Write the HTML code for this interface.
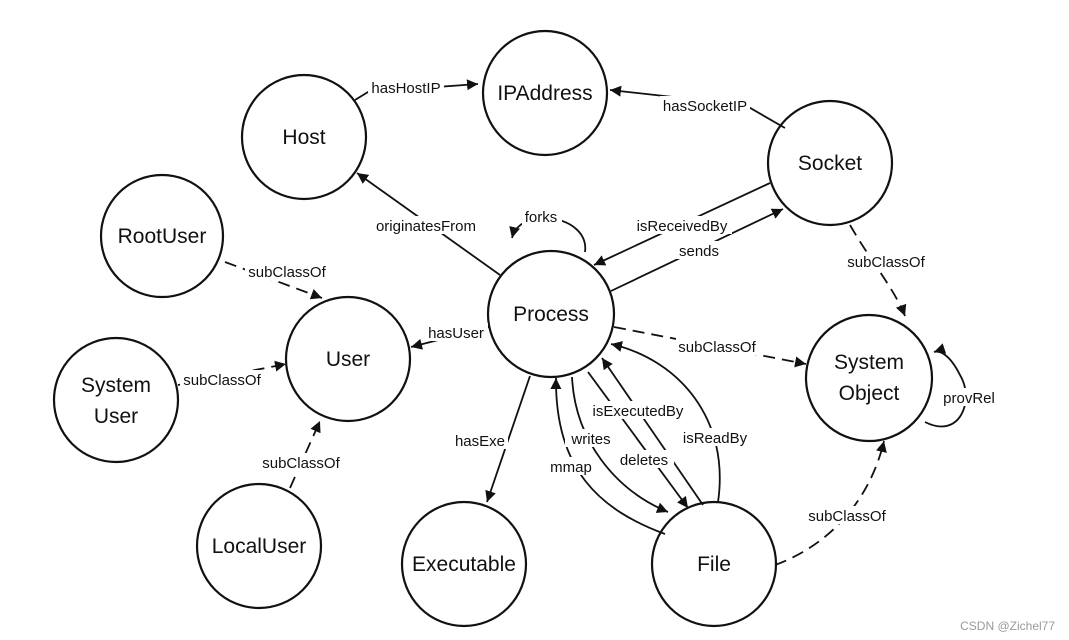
<!DOCTYPE html>
<html><head><meta charset="utf-8"><style>
body{margin:0;background:#fff}
svg{display:block}
text{font-family:"Liberation Sans",sans-serif;fill:#111}
.n{font-size:21px;text-anchor:middle}
.e{font-size:15px;text-anchor:middle}
.c{fill:none;stroke:#111;stroke-width:2.2}
.l{fill:none;stroke:#111;stroke-width:1.8}
.d{fill:none;stroke:#111;stroke-width:1.8;stroke-dasharray:12 7}
.bg{fill:#fff;stroke:none}
</style></head><body>
<svg width="1069" height="640" viewBox="0 0 1069 640" xmlns="http://www.w3.org/2000/svg">
<defs><marker id="a" viewBox="0 0 10 10" refX="10" refY="5" markerWidth="11" markerHeight="11" markerUnits="userSpaceOnUse" orient="auto"><path d="M0,0L10,5L0,10z" fill="#111"/></marker></defs>

<!-- edges -->
<path class="l" d="M355,100 L368,92 L478,84" marker-end="url(#a)"/>
<path class="l" d="M785,128 L745,105 L610,90" marker-end="url(#a)"/>
<path class="l" d="M500,275 L357,173" marker-end="url(#a)"/>
<path class="l" d="M585,252 C590,215 520,205 512,238" marker-end="url(#a)"/>
<path class="l" d="M770,183 L594,265" marker-end="url(#a)"/>
<path class="l" d="M611,291 L783,209" marker-end="url(#a)"/>
<path class="l" d="M489,327 L411,347" marker-end="url(#a)"/>
<path class="d" d="M614,327 L806,364" marker-end="url(#a)"/>
<path class="d" d="M850,225 C870,260 895,290 905,316" marker-end="url(#a)"/>
<path class="l" d="M925,422 C960,440 975,400 960,375 C950,355 940,350 934,352" marker-end="url(#a)"/>
<path class="d" d="M775,565 C830,545 870,500 884,441" marker-end="url(#a)"/>
<path class="l" d="M530,376 L487,502" marker-end="url(#a)"/>
<path class="l" d="M665,534 C600,510 555,470 556,378" marker-end="url(#a)"/>
<path class="l" d="M572,377 C575,440 615,490 668,512" marker-end="url(#a)"/>
<path class="l" d="M588,372 L688,508" marker-end="url(#a)"/>
<path class="l" d="M703,505 L602,358" marker-end="url(#a)"/>
<path class="l" d="M718,502 C730,420 680,360 611,344" marker-end="url(#a)"/>
<path class="d" d="M225,262 L322,298" marker-end="url(#a)"/>
<path class="d" d="M178,385 L286,364" marker-end="url(#a)"/>
<path class="d" d="M290,488 L320,421" marker-end="url(#a)"/>

<!-- nodes -->
<g fill="#fff">
<circle class="c" cx="304" cy="137" r="62" fill="#fff"/>
<circle class="c" cx="545" cy="93" r="62" fill="#fff"/>
<circle class="c" cx="830" cy="163" r="62" fill="#fff"/>
<circle class="c" cx="162" cy="236" r="61" fill="#fff"/>
<circle class="c" cx="348" cy="359" r="62" fill="#fff"/>
<circle class="c" cx="116" cy="400" r="62" fill="#fff"/>
<circle class="c" cx="259" cy="546" r="62" fill="#fff"/>
<circle class="c" cx="551" cy="314" r="63" fill="#fff"/>
<circle class="c" cx="869" cy="378" r="63" fill="#fff"/>
<circle class="c" cx="464" cy="564" r="62" fill="#fff"/>
<circle class="c" cx="714" cy="564" r="62" fill="#fff"/>
</g>
<text class="n" x="304" y="144">Host</text>
<text class="n" x="545" y="100">IPAddress</text>
<text class="n" x="830" y="170">Socket</text>
<text class="n" x="162" y="243">RootUser</text>
<text class="n" x="348" y="366">User</text>
<text class="n" x="116" y="392">System</text>
<text class="n" x="116" y="423">User</text>
<text class="n" x="259" y="553">LocalUser</text>
<text class="n" x="551" y="321">Process</text>
<text class="n" x="869" y="369">System</text>
<text class="n" x="869" y="400">Object</text>
<text class="n" x="464" y="571">Executable</text>
<text class="n" x="714" y="571">File</text>

<!-- edge labels -->
<g>
<rect class="bg" x="368" y="78" width="76" height="18"/><text class="e" x="406" y="93">hasHostIP</text>
<rect class="bg" x="660" y="96" width="90" height="18"/><text class="e" x="705" y="111">hasSocketIP</text>
<rect class="bg" x="370" y="216" width="112" height="18"/><text class="e" x="426" y="231">originatesFrom</text>
<rect class="bg" x="522" y="207" width="40" height="18"/><text class="e" x="541" y="222">forks</text>
<rect class="bg" x="632" y="216" width="100" height="18"/><text class="e" x="682" y="231">isReceivedBy</text>
<rect class="bg" x="676" y="241" width="46" height="18"/><text class="e" x="699" y="256">sends</text>
<rect class="bg" x="424" y="323" width="64" height="18"/><text class="e" x="456" y="338">hasUser</text>
<rect class="bg" x="676" y="337" width="84" height="18"/><text class="e" x="717" y="352">subClassOf</text>
<rect class="bg" x="846" y="252" width="80" height="18"/><text class="e" x="886" y="267">subClassOf</text>
<rect class="bg" x="946" y="388" width="46" height="18"/><text class="e" x="969" y="403">provRel</text>
<rect class="bg" x="805" y="506" width="84" height="18"/><text class="e" x="847" y="521">subClassOf</text>
<rect class="bg" x="452" y="431" width="56" height="18"/><text class="e" x="480" y="446">hasExe</text>
<rect class="bg" x="546" y="457" width="50" height="18"/><text class="e" x="571" y="472">mmap</text>
<rect class="bg" x="565" y="429" width="52" height="18"/><text class="e" x="591" y="444">writes</text>
<rect class="bg" x="614" y="450" width="60" height="18"/><text class="e" x="644" y="465">deletes</text>
<rect class="bg" x="590" y="401" width="96" height="18"/><text class="e" x="638" y="416">isExecutedBy</text>
<rect class="bg" x="680" y="428" width="70" height="18"/><text class="e" x="715" y="443">isReadBy</text>
<rect class="bg" x="245" y="262" width="84" height="18"/><text class="e" x="287" y="277">subClassOf</text>
<rect class="bg" x="180" y="370" width="84" height="18"/><text class="e" x="222" y="385">subClassOf</text>
<rect class="bg" x="259" y="453" width="84" height="18"/><text class="e" x="301" y="468">subClassOf</text>
</g>
<text x="1055" y="630" style="font-size:12px;text-anchor:end;fill:#999">CSDN @Zichel77</text>
</svg>
</body></html>
